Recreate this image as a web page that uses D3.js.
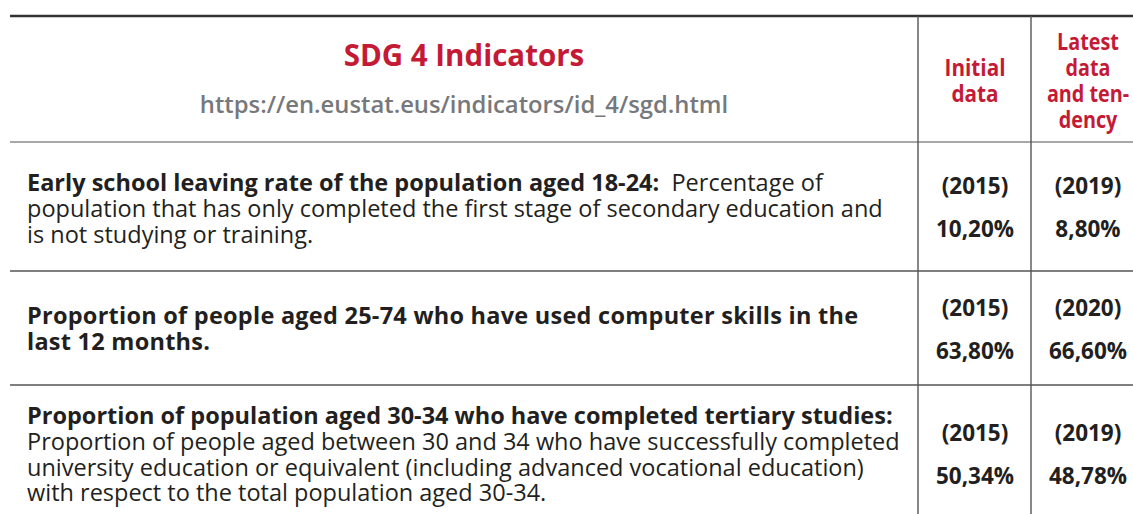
<!DOCTYPE html>
<html>
<head>
<meta charset="utf-8">
<script src="https://cdn.jsdelivr.net/npm/d3@7"></script>
<style>
  html, body { margin: 0; padding: 0; background: #fff; }
  svg { display: block; font-family: "Open Sans", sans-serif; }
</style>
</head>
<body>
<div id="chart"></div>
<script>
// table content
var title = "SDG 4 Indicators";
var url = "https://en.eustat.eus/indicators/id_4/sgd.html";
var colHeads = [["Initial", "data"], ["Latest", "data", "and ten-", "dency"]];

// indicator label: bold part first line(s), regular lines after
var indicatorBold = [
    ["Early school leaving rate of the population aged 18-24:"],
    ["Proportion of people aged 25-74 who have used computer skills in the",
     "last 12 months."],
    ["Proportion of population aged 30-34 who have completed tertiary studies:"]
];
var indicatorTail = [  // regular text continuing on the bold's last line
    "Percentage of", "", ""
];
var indicatorRest = [
    ["population that has only completed the first stage of secondary education and",
     "is not studying or training."],
    [],
    ["Proportion of people aged between 30 and 34 who have successfully completed",
     "university education or equivalent (including advanced vocational education)",
     "with respect to the total population aged 30-34."]
];
var initialYears = ["2015", "2015", "2015"];
var initialValues = ["10,20%", "63,80%", "50,34%"];
var latestYears = ["2019", "2020", "2019"];
var latestValues = ["8,80%", "66,60%", "48,78%"];

(function () {
    "use strict";

    var W = 1133, H = 514,
        red = "#c41a35", ink = "#231f20", grey = "#77787b",
        lineH = 25.8;

    var svg = d3.select("#chart").append("svg")
        .attr("width", W).attr("height", H);

    // row boundaries: header, then one per indicator
    var rowEdges = [16, 142, 271, 385, 514];
    var colEdges = [10, 918, 1031, 1145];
    var colCenter = d3.scaleOrdinal()
        .domain(["label", "initial", "latest"])
        .range([464, 975, 1088]);

    // grid lines
    svg.append("line")
        .attr("x1", colEdges[0]).attr("x2", W)
        .attr("y1", rowEdges[0]).attr("y2", rowEdges[0])
        .attr("stroke", "#333").attr("stroke-width", 2.5);
    svg.selectAll("line.row")
        .data(rowEdges.slice(1, 4))
        .enter().append("line")
        .attr("class", "row")
        .attr("x1", colEdges[0]).attr("x2", W)
        .attr("y1", function (d) { return d; })
        .attr("y2", function (d) { return d; })
        .attr("stroke", function (d, i) { return i === 0 ? "#8a8a8a" : "#555"; })
        .attr("stroke-width", 1.6);
    svg.selectAll("line.col")
        .data(colEdges.slice(1, 3))
        .enter().append("line")
        .attr("class", "col")
        .attr("x1", function (d) { return d; })
        .attr("x2", function (d) { return d; })
        .attr("y1", rowEdges[0]).attr("y2", H)
        .attr("stroke", "#555").attr("stroke-width", 1.4);

    // header
    svg.append("text")
        .attr("x", colCenter("label")).attr("y", 66)
        .attr("text-anchor", "middle")
        .attr("font-size", 29.5).attr("font-weight", 700)
        .attr("fill", red).text(title);
    svg.append("text")
        .attr("x", colCenter("label")).attr("y", 113)
        .attr("text-anchor", "middle")
        .attr("font-size", 23.8).attr("font-weight", 600)
        .attr("fill", grey).text(url);

    colHeads.forEach(function (lines, ci) {
        var cx = colCenter(ci === 0 ? "initial" : "latest"),
            top = 85 - (lines.length - 1) * 26 / 2 + 4;
        svg.append("g")
            .attr("transform", "translate(" + cx + ",0) scale(" +
                  (ci === 0 ? 0.9 : 0.86) + ",1)")
            .selectAll("text")
            .data(lines)
            .enter().append("text")
            .attr("x", 0)
            .attr("y", function (d, i) { return top + i * 26; })
            .attr("text-anchor", "middle")
            .attr("font-size", 23).attr("font-weight", 700)
            .attr("fill", red)
            .text(function (d) { return d; });
    });

    // body rows
    var firstBase = [191, 324, 424];
    indicatorBold.forEach(function (bold, r) {
        var g = svg.append("g").attr("fill", ink).attr("font-size", 23.5);
        bold.forEach(function (ln, i) {
            var t = g.append("text")
                .attr("x", 27).attr("y", firstBase[r] + i * lineH)
                .attr("xml:space", "preserve");
            t.append("tspan").attr("font-weight", 700)
                .attr("letter-spacing", r === 1 ? 0.25 : 0).text(ln);
            if (i === bold.length - 1 && indicatorTail[r]) {
                t.append("tspan").attr("font-weight", 400)
                    .text("  " + indicatorTail[r]);
            }
        });
        indicatorRest[r].forEach(function (ln, i) {
            g.append("text")
                .attr("x", 27)
                .attr("y", firstBase[r] + (bold.length + i) * lineH)
                .attr("font-weight", 400)
                .text(ln);
        });
    });

    var yearBase = [194, 316, 441];
    function valueColumn(key, years, values) {
        var g = svg.append("g")
            .attr("fill", ink).attr("font-size", 22.5)
            .attr("font-weight", 700).attr("text-anchor", "middle");
        g.selectAll("text.year")
            .data(years).enter().append("text")
            .attr("class", "year")
            .attr("x", colCenter(key))
            .attr("y", function (d, i) { return yearBase[i]; })
            .text(function (d) { return "(" + d + ")"; });
        g.selectAll("text.val")
            .data(values).enter().append("text")
            .attr("class", "val")
            .attr("x", colCenter(key))
            .attr("y", function (d, i) { return yearBase[i] + 43; })
            .text(function (d) { return d; });
    }
    valueColumn("initial", initialYears, initialValues);
    valueColumn("latest", latestYears, latestValues);
}());
</script>
</body>
</html>
